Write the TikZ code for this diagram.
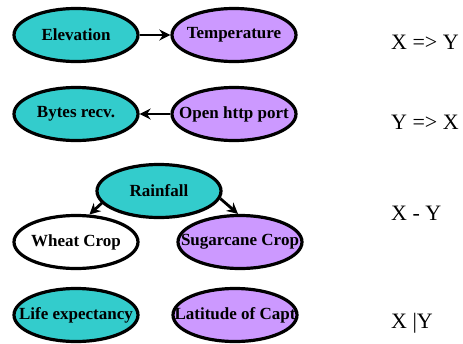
\documentclass[tikz,border=0pt]{standalone}
\usepackage{fontspec}
\setmainfont{Liberation Serif}
\usetikzlibrary{shapes.geometric,arrows.meta}
\definecolor{teal1}{HTML}{33CCCC}
\definecolor{lilac}{HTML}{CC99FF}
\tikzset{
  ell/.style={ellipse, draw=black, line width=3.2pt, minimum width=124pt, minimum height=53pt, inner sep=0pt},
  tealn/.style={ell, fill=teal1},
  lilacn/.style={ell, fill=lilac},
  whiten/.style={ell, fill=white},
  txt/.style={font=\fontsize{17}{19}\selectfont\bfseries, text=black, inner sep=0pt},
  conn/.style={line width=2.8pt, -{Stealth[length=11pt,width=11pt]}},
  rlab/.style={anchor=west, font=\fontsize{22}{24}\selectfont, inner sep=0pt}
}
\begin{document}
\begin{tikzpicture}[x=1pt,y=-1pt]
\useasboundingbox (0,0) rectangle (463,343);
\node[tealn] (elev) at (76,35) {};
\node[txt] (elevt) at (elev) {Elevation};
\node[lilacn] (temp) at (234,35) {};
\node[txt] (tempt) at (temp) {Temperature};
\draw[conn] (elev) -- (temp);
\node[tealn] (bytes) at (76,114) {};
\node[txt] (bytest) at (bytes) {Bytes recv.};
\node[lilacn] (http) at (234,114) {};
\node[txt] (httpt) at (http) {Open http port};
\draw[conn] (http) -- (bytes);
\node[tealn] (rain) at (159,191) {};
\node[txt] (raint) at (rain) {Rainfall};
\node[whiten] (wheat) at (76,242) {};
\node[txt] (wheatt) at (wheat) {Wheat Crop};
\node[lilacn] (sugar) at (240,242) {};
\node[txt] (sugart) at (sugar) {Sugarcane Crop};
\draw[conn] (rain.192) -- (wheat.64);
\draw[conn] (rain.353) -- (sugar.94);
\node[tealn] (life) at (76,315) {};
\node[txt] (lifet) at (life) {Life expectancy};
\node[lilacn] (lat) at (235,315) {};
\node[txt] (latt) at (lat) {Latitude of Capt};
\node[rlab] (l1) at (391,42) {X => Y};
\node[rlab] (l2) at (391,122) {Y => X};
\node[rlab] (l3) at (391,213) {X - Y};
\node[rlab] (l4) at (391,323) {X |Y};
\end{tikzpicture}
\end{document}
